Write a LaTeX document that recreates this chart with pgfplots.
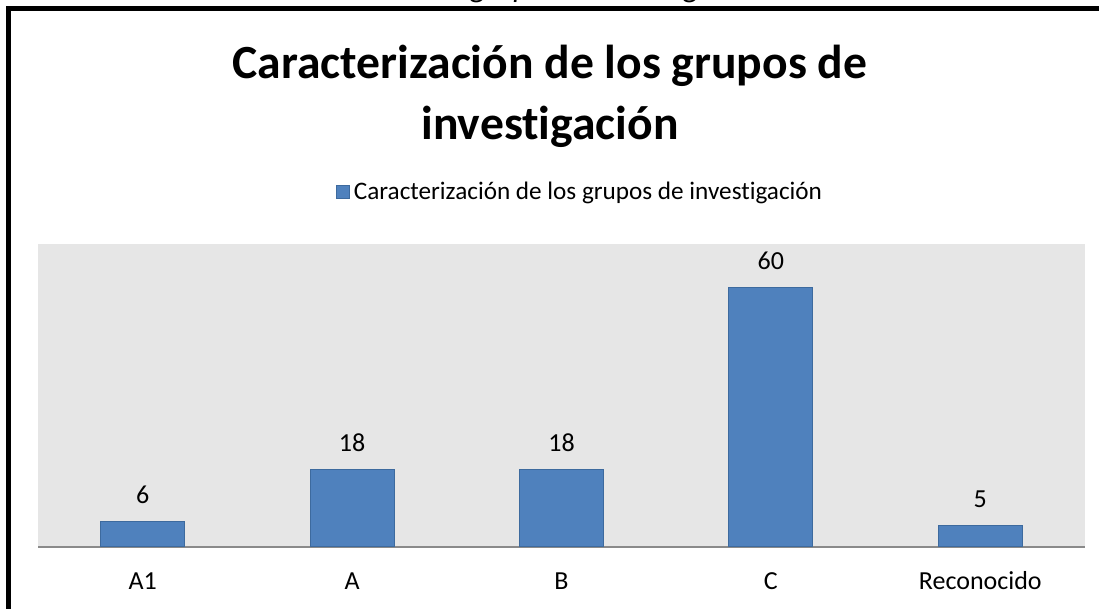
\documentclass[border=0pt]{standalone}
\usepackage{pgfplots}
\pgfplotsset{compat=1.18}
\usepackage{fontspec}
\setmainfont{Carlito}[Ligatures={NoCommon,NoContextual}]
\definecolor{barblue}{HTML}{4F81BD}
\definecolor{baredge}{HTML}{3D6A9E}
\definecolor{plotbg}{HTML}{E6E6E6}
\definecolor{axisgray}{HTML}{8A8A8A}
\begin{document}
\begin{tikzpicture}
\useasboundingbox (0,0) rectangle (549.5pt,304.5pt);
\clip (0,0) rectangle (549.5pt,304.5pt);
\draw[line width=2.5pt] (4.25pt,-10pt) -- (4.25pt,300.25pt) -- (560pt,300.25pt);
\node[font=\fontsize{15.6}{18}\selectfont\itshape, anchor=base west, inner sep=0pt] at (94pt,305.5pt) {Caracterización de los grupos de investigación};
\node[font=\fontsize{23.8}{28}\selectfont\bfseries, anchor=base, inner sep=0pt] at (275pt,265pt) {Caracterización de los grupos de};
\node[font=\fontsize{23.8}{28}\selectfont\bfseries, anchor=base, inner sep=0pt] at (275pt,234.5pt) {investigación};
\begin{axis}[
  at={(19pt,31pt)}, anchor=south west,
  width=523.5pt, height=151.5pt, scale only axis,
  xmin=-0.5, xmax=4.5, ymin=0, ymax=70,
  axis background/.style={fill=plotbg},
  axis x line=bottom, axis y line=none,
  x axis line style={-, draw=axisgray, line width=0.75pt},
  ytick=\empty,
  xtick={0,1,2,3,4}, xticklabels={A1,A,B,C,Reconocido},
  major tick length=0pt,
  xticklabel style={font=\fontsize{13}{15}\selectfont, anchor=base, yshift=-21.5pt},
  ybar, bar width=42pt,
  /pgf/number format/assume math mode=true,
  nodes near coords,
  every node near coord/.append style={font=\fontsize{13}{15}\selectfont, anchor=base, yshift=9pt, inner sep=0pt},
  clip=false,
  legend style={at={(0.5186,1.1716)}, anchor=center, draw=none, fill=none,
    font=\fontsize{12.6}{15}\selectfont, inner sep=0pt,
    /tikz/every even column/.append style={column sep=0pt}},
  legend image code/.code={\draw[#1] (0pt,-3.25pt) rectangle (6.5pt,3.25pt);},
]
\addplot[fill=barblue, draw=baredge, line width=0.5pt] coordinates {(0,6) (1,18) (2,18) (3,60) (4,5)};
\addlegendentry{Caracterización de los grupos de investigación}
\end{axis}
\end{tikzpicture}
\end{document}
